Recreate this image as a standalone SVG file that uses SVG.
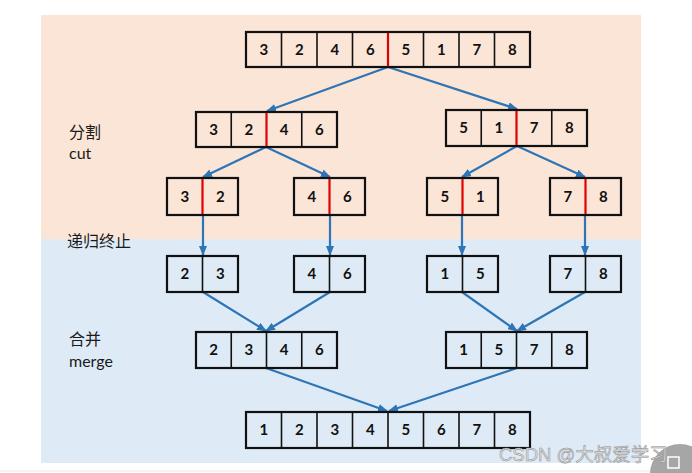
<svg xmlns="http://www.w3.org/2000/svg" width="692" height="473" viewBox="0 0 692 473">
<defs>
<marker id="ah" markerWidth="10" markerHeight="8" refX="9" refY="4" orient="auto" markerUnits="userSpaceOnUse">
<path d="M0,0 L10,4 L0,8 Z" fill="#2e75b6"/>
</marker>
<style>
.box{fill:none;stroke:#111;stroke-width:2.2}
.div{stroke:#111;stroke-width:1.6}
.red{stroke:#e00000;stroke-width:2.2}
.num{font-family:Lato,"Open Sans","Liberation Sans",sans-serif;font-weight:bold;font-size:15px;fill:#111;text-anchor:middle}
.lbl{font-family:Lato,"Noto Sans CJK SC",sans-serif;font-size:16px;fill:#1a1a1a}
.arr{stroke:#2e75b6;stroke-width:2.2;fill:none;marker-end:url(#ah)}
</style>
</defs>
<rect x="0" y="0" width="692" height="473" fill="#ffffff"/>
<rect x="41" y="15" width="600" height="224" fill="#fbe5d6"/>
<rect x="41" y="239" width="600" height="224" fill="#deebf7"/>
<line x1="0" y1="471" x2="692" y2="471" stroke="#e6e6e6" stroke-width="1"/>

<g id="labels">
<text class="lbl" x="69" y="138">分割</text>
<text class="lbl" x="69" y="159">cut</text>
<text class="lbl" x="67" y="247">递归终止</text>
<text class="lbl" x="69" y="345">合并</text>
<text class="lbl" x="69" y="367">merge</text>
</g>

<g id="connectors">
<path class="arr" d="M388,67 L267,111"/>
<path class="arr" d="M388,67 L517,109"/>
<path class="arr" d="M266,147 L203,177"/>
<path class="arr" d="M266,147 L330,177"/>
<path class="arr" d="M517,146 L462,177"/>
<path class="arr" d="M517,146 L585,177"/>
<path class="arr" d="M203,215 L203,255"/>
<path class="arr" d="M330,215 L330,255"/>
<path class="arr" d="M462,215 L462,255"/>
<path class="arr" d="M585,215 L585,255"/>
<path class="arr" d="M203,292 L266,331"/>
<path class="arr" d="M330,292 L266,331"/>
<path class="arr" d="M462,292 L517,331"/>
<path class="arr" d="M585,292 L517,331"/>
<path class="arr" d="M266,368 L387,411"/>
<path class="arr" d="M517,368 L389,411"/>
</g>

<g id="n-root">
<rect class="box" x="246" y="32" width="284" height="35"/>
<line class="div" x1="281.5" y1="32" x2="281.5" y2="67"/>
<line class="div" x1="317" y1="32" x2="317" y2="67"/>
<line class="div" x1="352.5" y1="32" x2="352.5" y2="67"/>
<line class="div" x1="423.5" y1="32" x2="423.5" y2="67"/>
<line class="div" x1="459" y1="32" x2="459" y2="67"/>
<line class="div" x1="494.5" y1="32" x2="494.5" y2="67"/>
<line class="red" x1="388" y1="33" x2="388" y2="66"/>
<text class="num" x="263.8" y="55">3</text>
<text class="num" x="299.3" y="55">2</text>
<text class="num" x="334.8" y="55">4</text>
<text class="num" x="370.3" y="55">6</text>
<text class="num" x="405.8" y="55">5</text>
<text class="num" x="441.3" y="55">1</text>
<text class="num" x="476.8" y="55">7</text>
<text class="num" x="512.3" y="55">8</text>
</g>

<g id="n-l2a">
<rect class="box" x="196" y="112" width="141" height="35"/>
<line class="div" x1="231.25" y1="112" x2="231.25" y2="147"/>
<line class="div" x1="301.75" y1="112" x2="301.75" y2="147"/>
<line class="red" x1="266.5" y1="113" x2="266.5" y2="146"/>
<text class="num" x="213.6" y="135">3</text>
<text class="num" x="248.9" y="135">2</text>
<text class="num" x="284.1" y="135">4</text>
<text class="num" x="319.4" y="135">6</text>
</g>

<g id="n-l2b">
<rect class="box" x="446" y="110" width="141" height="36"/>
<line class="div" x1="481.25" y1="110" x2="481.25" y2="146"/>
<line class="div" x1="551.75" y1="110" x2="551.75" y2="146"/>
<line class="red" x1="516.5" y1="111" x2="516.5" y2="145"/>
<text class="num" x="463.6" y="133">5</text>
<text class="num" x="498.9" y="133">1</text>
<text class="num" x="534.1" y="133">7</text>
<text class="num" x="569.4" y="133">8</text>
</g>

<g id="n-l3a">
<rect class="box" x="167" y="178" width="71" height="37"/>
<line class="red" x1="202.5" y1="179" x2="202.5" y2="214"/>
<text class="num" x="184.8" y="202">3</text>
<text class="num" x="220.3" y="202">2</text>
</g>
<g id="n-l3b">
<rect class="box" x="294" y="178" width="71" height="37"/>
<line class="red" x1="329.5" y1="179" x2="329.5" y2="214"/>
<text class="num" x="311.8" y="202">4</text>
<text class="num" x="347.3" y="202">6</text>
</g>
<g id="n-l3c">
<rect class="box" x="427" y="178" width="71" height="37"/>
<line class="red" x1="462.5" y1="179" x2="462.5" y2="214"/>
<text class="num" x="444.8" y="202">5</text>
<text class="num" x="480.3" y="202">1</text>
</g>
<g id="n-l3d">
<rect class="box" x="550" y="178" width="71" height="37"/>
<line class="red" x1="585.5" y1="179" x2="585.5" y2="214"/>
<text class="num" x="567.8" y="202">7</text>
<text class="num" x="603.3" y="202">8</text>
</g>

<g id="n-l4a">
<rect class="box" x="167" y="256" width="71" height="36"/>
<line class="div" x1="202.5" y1="256" x2="202.5" y2="292"/>
<text class="num" x="184.8" y="279">2</text>
<text class="num" x="220.3" y="279">3</text>
</g>
<g id="n-l4b">
<rect class="box" x="294" y="256" width="71" height="36"/>
<line class="div" x1="329.5" y1="256" x2="329.5" y2="292"/>
<text class="num" x="311.8" y="279">4</text>
<text class="num" x="347.3" y="279">6</text>
</g>
<g id="n-l4c">
<rect class="box" x="427" y="256" width="71" height="36"/>
<line class="div" x1="462.5" y1="256" x2="462.5" y2="292"/>
<text class="num" x="444.8" y="279">1</text>
<text class="num" x="480.3" y="279">5</text>
</g>
<g id="n-l4d">
<rect class="box" x="550" y="256" width="71" height="36"/>
<line class="div" x1="585.5" y1="256" x2="585.5" y2="292"/>
<text class="num" x="567.8" y="279">7</text>
<text class="num" x="603.3" y="279">8</text>
</g>

<g id="n-l5a">
<rect class="box" x="196" y="332" width="141" height="36"/>
<line class="div" x1="231.25" y1="332" x2="231.25" y2="368"/>
<line class="div" x1="266.5" y1="332" x2="266.5" y2="368"/>
<line class="div" x1="301.75" y1="332" x2="301.75" y2="368"/>
<text class="num" x="213.6" y="355">2</text>
<text class="num" x="248.9" y="355">3</text>
<text class="num" x="284.1" y="355">4</text>
<text class="num" x="319.4" y="355">6</text>
</g>
<g id="n-l5b">
<rect class="box" x="446" y="332" width="141" height="36"/>
<line class="div" x1="481.25" y1="332" x2="481.25" y2="368"/>
<line class="div" x1="516.5" y1="332" x2="516.5" y2="368"/>
<line class="div" x1="551.75" y1="332" x2="551.75" y2="368"/>
<text class="num" x="463.6" y="355">1</text>
<text class="num" x="498.9" y="355">5</text>
<text class="num" x="534.1" y="355">7</text>
<text class="num" x="569.4" y="355">8</text>
</g>

<g id="n-final">
<rect class="box" x="246" y="412" width="284" height="36"/>
<line class="div" x1="281.5" y1="412" x2="281.5" y2="448"/>
<line class="div" x1="317" y1="412" x2="317" y2="448"/>
<line class="div" x1="352.5" y1="412" x2="352.5" y2="448"/>
<line class="div" x1="388" y1="412" x2="388" y2="448"/>
<line class="div" x1="423.5" y1="412" x2="423.5" y2="448"/>
<line class="div" x1="459" y1="412" x2="459" y2="448"/>
<line class="div" x1="494.5" y1="412" x2="494.5" y2="448"/>
<text class="num" x="263.8" y="435">1</text>
<text class="num" x="299.3" y="435">2</text>
<text class="num" x="334.8" y="435">3</text>
<text class="num" x="370.3" y="435">4</text>
<text class="num" x="405.8" y="435">5</text>
<text class="num" x="441.3" y="435">6</text>
<text class="num" x="476.8" y="435">7</text>
<text class="num" x="512.3" y="435">8</text>
</g>

<circle cx="680" cy="474" r="30" fill="#a6a6a6"/>
<rect x="668" y="457" width="11" height="11" fill="none" stroke="#ffffff" stroke-width="1.5"/>
<text x="499" y="461" font-family="'Liberation Sans','Noto Sans CJK SC',sans-serif" font-size="18.5" fill="#e4e4e4" stroke="#8a8a8a" stroke-width="0.5">CSDN @大叔爱学习</text>
</svg>
